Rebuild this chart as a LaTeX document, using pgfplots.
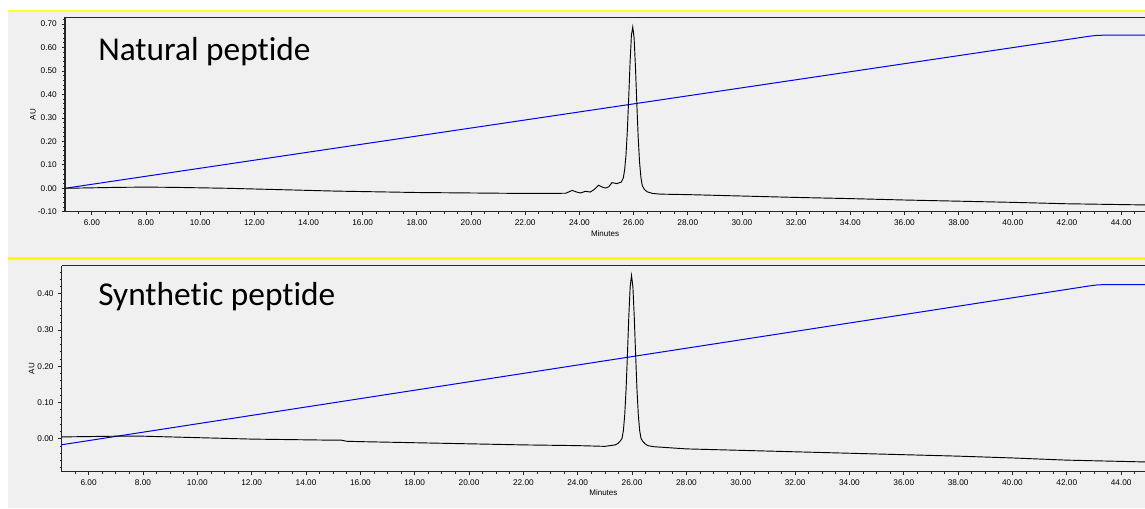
\documentclass[border=0pt]{standalone}
\usepackage{pgfplots}
\pgfplotsset{compat=1.18}
\usepackage{fontspec}
\setmainfont{Liberation Sans}
\newfontfamily\calibri[RawFeature={-liga}]{Carlito}
\definecolor{bgray}{HTML}{F0F0F0}
\definecolor{ylw}{HTML}{FFFF00}
\definecolor{gblue}{HTML}{0000F0}

\pgfplotstableread{
x y
5.01 0.000
6 0.002
7 0.004
8 0.005
9 0.004
10 0.002
11 0.000
12 -0.003
13 -0.006
14 -0.009
15 -0.012
16 -0.014
17 -0.016
18 -0.018
19 -0.019
20 -0.020
21 -0.021
22 -0.022
23 -0.022
23.5 -0.021
23.73 -0.009
23.9 -0.016
24.04 -0.020
24.22 -0.013
24.4 -0.016
24.55 -0.005
24.71 0.013
24.85 0.005
24.96 0.001
25.08 0.006
25.2 0.024
25.39 0.020
25.55 0.027
25.62 0.044
25.67 0.078
25.72 0.142
25.77 0.246
25.82 0.385
25.87 0.535
25.92 0.653
25.97 0.688
26.02 0.640
26.07 0.515
26.12 0.360
26.17 0.218
26.22 0.112
26.27 0.047
26.32 0.012
26.4 -0.005
26.5 -0.015
26.7 -0.022
27 -0.025
28 -0.027
30 -0.033
32 -0.039
34 -0.044
36 -0.050
38 -0.055
40 -0.060
42 -0.066
44.88 -0.071
}\natural

\pgfplotstableread{
x y
5.01 0.005
6 0.006
7 0.007
8 0.007
9 0.005
10 0.003
11 0.001
12 -0.001
13 -0.002
14 -0.003
15 -0.004
15.3 -0.004
15.5 -0.007
16 -0.008
18 -0.011
20 -0.014
22 -0.017
24 -0.019
25 -0.021
25.38 -0.017
25.48 -0.013
25.58 -0.005
25.63 0.001
25.68 0.022
25.73 0.066
25.78 0.137
25.83 0.233
25.88 0.337
25.93 0.419
25.98 0.450
26.03 0.419
26.08 0.337
26.13 0.233
26.18 0.137
26.23 0.066
26.28 0.022
26.33 0.001
26.38 -0.006
26.48 -0.014
26.58 -0.019
26.8 -0.022
27 -0.023
28 -0.028
30 -0.032
32 -0.036
34 -0.040
36 -0.044
38 -0.048
40 -0.053
42 -0.059
44.88 -0.064
}\synthetic

\pgfplotsset{
  chrom/.style={
    scale only axis,
    axis lines=left,
    axis line style={-, black!85, line width=0.8pt},
    tick style={black!85, line width=0.6pt},
    tick align=outside,
    major tick length=2.6pt,
    minor tick length=1.5pt,
    xmin=5.01, xmax=44.88,
    xtick={6,8,...,44},
    minor xtick={5,5.5,...,45},
    /pgf/number format/.cd, fixed, fixed zerofill, precision=2, assume math mode=true,
    /pgfplots/.cd,
    ticklabel style={font=\fontsize{6.2}{7}\selectfont},
    label style={font=\fontsize{6}{7}\selectfont},
    xlabel={Minutes},
    ylabel={AU},
    axis background/.style={fill=bgray},
    clip=true,
    extra description/.code={\draw[black!85, line width=0.8pt] (rel axis cs:0,1) -- (rel axis cs:1,1);},
  }
}

\begin{document}
\begin{tikzpicture}
\path[use as bounding box] (0,0) rectangle (858.75pt,381pt);
\fill[bgray] (6pt,0) rectangle (858.75pt,372.75pt);
\draw[ylw!80!white, line width=1pt] (6pt,372.75pt) -- (858.75pt,372.75pt);
\draw[ylw, line width=2.5pt] (6pt,187.3pt) -- (858.75pt,187.3pt);

\begin{axis}[chrom,
  at={(48.75pt,222.2pt)}, anchor=south west,
  width=810pt, height=145.8pt,
  ymin=-0.10, ymax=0.729,
  ytick={-0.1,0,0.1,0.2,0.3,0.4,0.5,0.6,0.7},
  minor ytick={-0.1,-0.08,...,0.72},
  xlabel style={at={(rel axis cs:0.5,0)}, anchor=center, yshift=-16.7pt},
  ylabel style={at={(rel axis cs:0,0.5)}, anchor=center, yshift=24pt},
]
\addplot[gblue, line width=0.75pt] coordinates {(5.01,0.000) (42.8,0.648) (43.1,0.652) (43.4,0.653) (44.88,0.653)};
\addplot[black, line width=0.7pt] table[x=x,y=y] {\natural};
\end{axis}

\begin{axis}[chrom,
  at={(46.3pt,27.2pt)}, anchor=south west,
  width=812.5pt, height=154.5pt,
  ymin=-0.091, ymax=0.477,
  ytick={0,0.1,0.2,0.3,0.4},
  minor ytick={-0.08,-0.06,...,0.47},
  xlabel style={at={(rel axis cs:0.5,0)}, anchor=center, yshift=-15.8pt},
  ylabel style={at={(rel axis cs:0,0.5)}, anchor=center, yshift=22.5pt},
]
\addplot[gblue, line width=0.75pt] coordinates {(5.01,-0.0166) (42.8,0.421) (43.1,0.424) (43.4,0.425) (44.88,0.425)};
\addplot[black, line width=0.7pt] table[x=x,y=y] {\synthetic};
\end{axis}

\node[anchor=base west, inner sep=0pt, font=\calibri\fontsize{25}{29}\selectfont] at (73.5pt,335.5pt) {Natural peptide};
\node[anchor=base west, inner sep=0pt, font=\calibri\fontsize{25}{29}\selectfont] at (73.5pt,152.25pt) {Synthetic peptide};
\end{tikzpicture}
\end{document}
